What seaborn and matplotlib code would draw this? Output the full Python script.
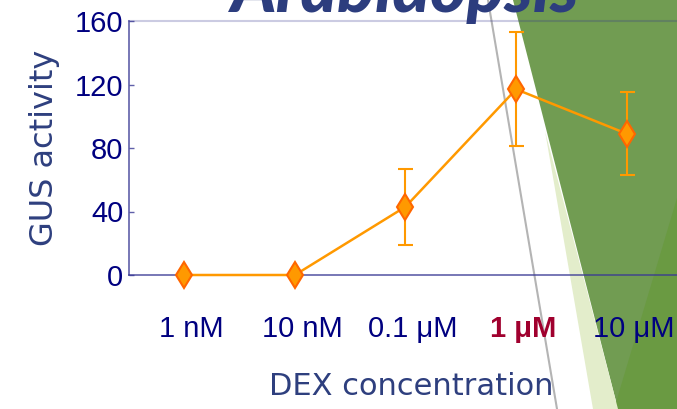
import numpy as np
import matplotlib
matplotlib.use("Agg")
import matplotlib.pyplot as plt
import matplotlib.transforms as mtransforms
from matplotlib.patches import Polygon
import seaborn as sns

# DEX dose response of GUS reporter activity
concentrations = ["1 nM", "10 nM", "0.1 μM", "1 μM", "10 μM"]
gus_activity = [0, 0, 43, 117, 89]
gus_error = [0, 0, 24, 36, 26]
y_ticks = [0, 40, 80, 120, 160]
highlight = "1 μM"

sns.set_style("white")
plt.rcParams["font.family"] = ["Liberation Sans", "DejaVu Sans"]

W, H = 677, 409
fig = plt.figure(figsize=(W / 100, H / 100), dpi=100)
fig.patch.set_facecolor("white")

# slide backdrop (pixel coordinates, origin top-left)
bg = fig.add_axes([0, 0, 1, 1], zorder=-1)
bg.set_xlim(0, W)
bg.set_ylim(H, 0)
bg.axis("off")
bg.add_patch(Polygon([(513, 0), (W, 0), (W, H), (618, H)], closed=True,
                     fc="#719C52", ec="none"))
bg.add_patch(Polygon([(W, 198), (W, H), (614, H)], closed=True,
                     fc="#6A9A42", ec="none"))
bg.add_patch(Polygon([(545, 131), (618, H), (593, H)], closed=True,
                     fc="#E3EDCB", ec="none"))
bg.plot([488, 557], [0, H], color="#B4B4B4", lw=1.5)
bg.text(405, 12, "Arabidopsis", ha="center", va="baseline", fontsize=50,
        fontstyle="italic", fontweight="black", family=["Lato", "DejaVu Sans"],
        color="#2C3D7E")

# chart area
ax = fig.add_axes([129 / W, (H - 275) / H, 553 / W, 254 / H])
ax.patch.set_alpha(0)

x = np.arange(len(concentrations))
vals = np.array(gus_activity, dtype=float)
errs = np.array(gus_error, dtype=float)
has_err = errs > 0

ax.errorbar(x[has_err], vals[has_err], yerr=errs[has_err], fmt="none",
            ecolor="#FF9900", elinewidth=1.5, capsize=5.4, capthick=1.5,
            zorder=2)
sns.lineplot(x=x, y=vals, ax=ax, color="#FF9900", lw=1.8, marker="d",
             markersize=13.5, markerfacecolor="#FF9900",
             markeredgecolor="#FF6600", markeredgewidth=1.5,
             zorder=3, clip_on=False)

ax.set_xlim(-0.5, 4.5)
ax.set_ylim(0, 160)

spine_col = (0.22, 0.22, 0.58, 0.8)
ax.spines["right"].set_visible(False)
ax.spines["top"].set_color((0.2, 0.2, 0.55, 0.25))
ax.spines["top"].set_linewidth(1.5)
for s in ("left", "bottom"):
    ax.spines[s].set_color(spine_col)
    ax.spines[s].set_linewidth(1.2)

ax.set_yticks(y_ticks)
ax.set_xticks(x, concentrations)
ax.tick_params(axis="y", direction="in", length=3.5, width=1, color=spine_col,
               labelsize=21, labelcolor="#000080", pad=4, left=True)
ax.tick_params(axis="x", length=0, pad=29, labelsize=21, labelcolor="#000080")

shift = mtransforms.ScaledTranslation(7 / 100, 0, fig.dpi_scale_trans)
for lab in ax.get_xticklabels():
    lab.set_transform(lab.get_transform() + shift)
    if lab.get_text() == highlight:
        lab.set_color("#A0002E")
        lab.set_fontweight("bold")

ax.set_ylabel("GUS activity", fontsize=23, color="#2E3F7E",
              family="DejaVu Sans", labelpad=11)
ax.set_xlabel("DEX concentration", fontsize=22, color="#2E3F7E",
              family="DejaVu Sans")
ax.xaxis.set_label_coords(0.511, -0.383)

fig.savefig("out.png", dpi=100)
